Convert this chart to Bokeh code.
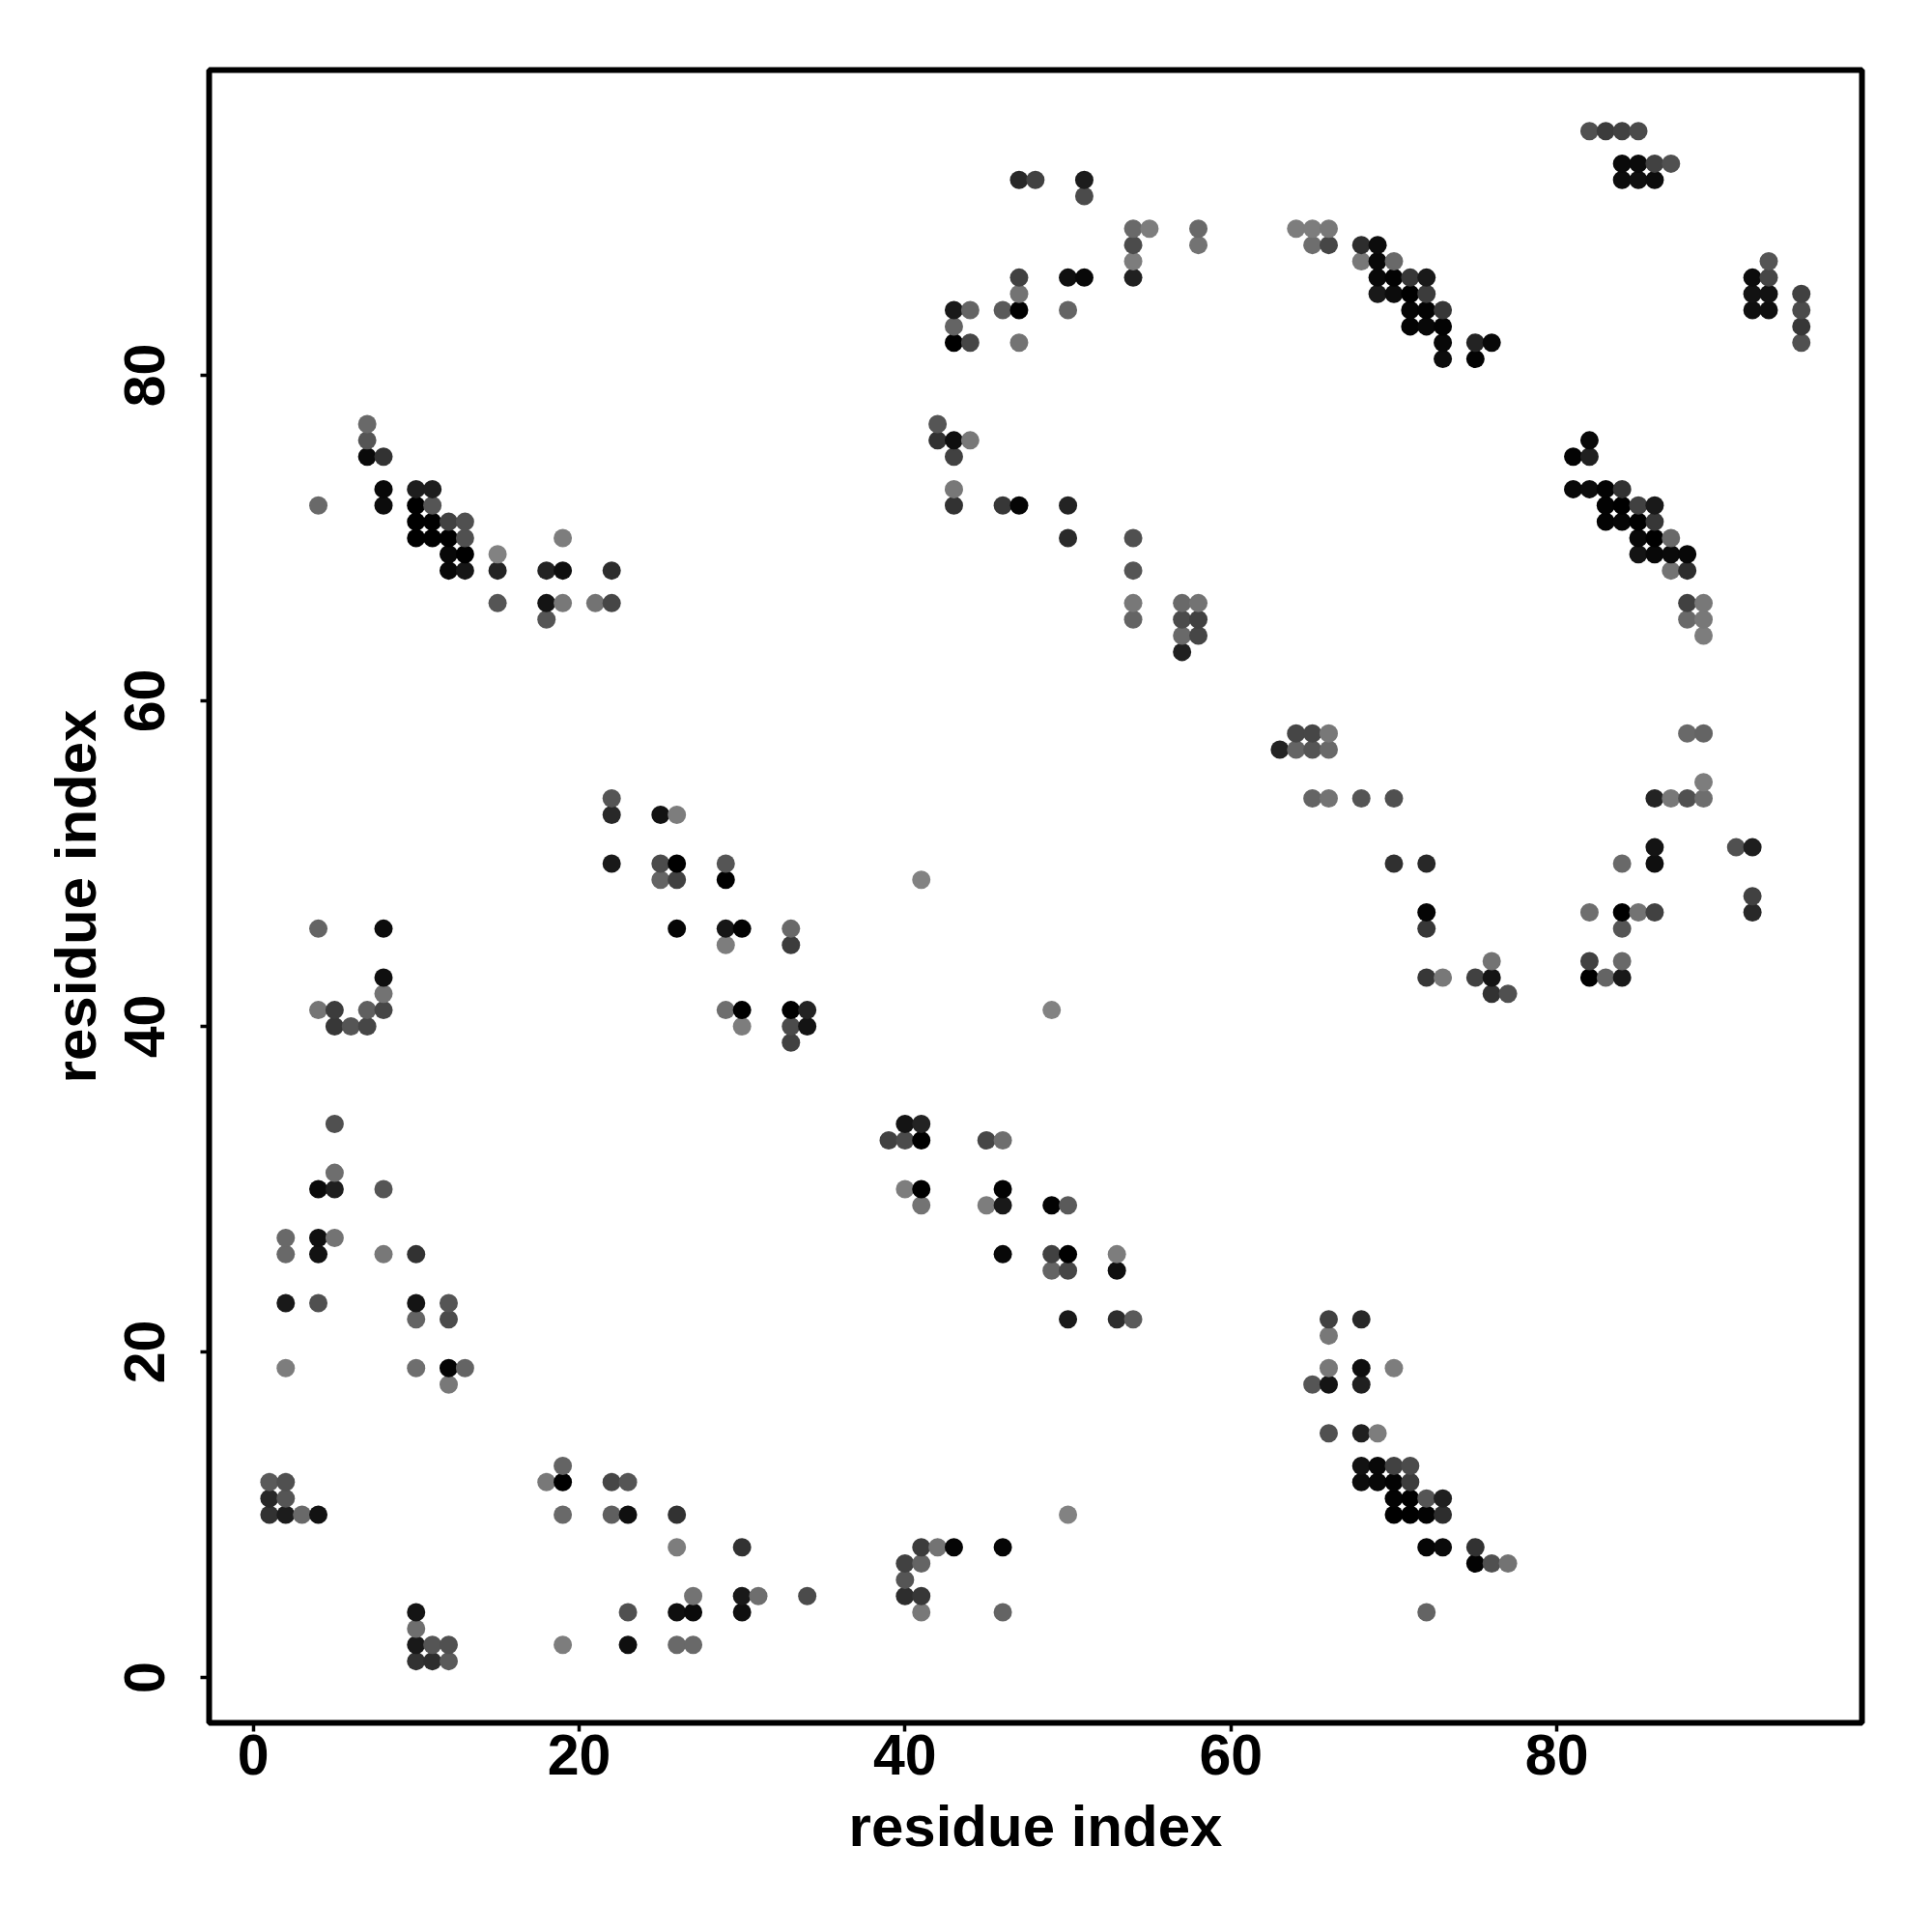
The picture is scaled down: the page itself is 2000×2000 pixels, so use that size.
from bokeh.plotting import figure
from bokeh.embed import file_html
from bokeh.resources import INLINE
from bokeh.models import FixedTicker, ColumnDataSource, Range1d

# (residue i, residue j, grey level 0-255)
block_a = [(4,41,117),(5,41,60),(5,40,55),(6,40,85),(7,40,70),(7,41,95),(8,41,70),(8,42,115),(8,43,15),
 (5,34,80),(5,31,110),(5,30,30),(4,30,10),(8,30,85),(2,27,105),(2,26,105),(4,27,15),(4,26,18),(5,27,115),
 (8,26,120),(10,26,50),(2,23,25),(4,23,80),(10,23,20),(10,22,100),(12,23,85),(12,22,75),(2,19,125),
 (10,19,110),(12,19,5),(13,19,100),(12,18,120)]
block_b = [(29,41,110),(30,41,0),(30,40,125),(33,41,0),(34,41,35),(33,40,75),(34,40,20),(33,39,65),
 (40,34,20),(41,34,35),(39,33,65),(40,33,75),(41,33,0),(45,33,70),(46,33,110),(40,30,125),(41,30,0),(41,29,115),
 (46,30,3),(45,29,125),(46,29,25),(49,29,3),(50,29,90),(46,26,8),(49,26,65),(50,26,0),(49,25,100),(50,25,70),
 (53,26,125),(53,25,15),(50,22,25),(53,22,45),(54,22,90),(49,41,130)]
block_c = [(72,43,55),(73,43,120),(75,43,65),(76,43,20),(76,42,50),(77,42,80),(76,44,115),(82,43,0),(83,43,100),
 (84,43,25),(82,44,65),(84,44,105),(66,22,65),(68,22,40),(66,21,120),(66,19,120),(68,19,15),(70,19,125),
 (65,18,85),(66,18,20),(68,18,32),(66,15,80),(68,15,32),(69,15,125)]
block_d = [(4,72,105),(8,72,12),(10,72,0),(11,72,85),(10,71,0),(11,71,0),(12,71,65),(13,71,80),(10,70,0),(11,70,0),
 (12,70,0),(13,70,80),(12,69,8),(13,69,0),(15,69,130),(12,68,8),(13,68,22),(15,68,35),(18,68,35),(19,68,15),
 (22,68,45),(19,70,125),(15,66,85),(18,66,20),(19,66,120),(21,66,115),(22,66,70),(18,65,85),
 (7,77,105),(7,76,85),(7,75,10),(8,75,50),(8,73,8),(10,73,30),(11,73,30)]
block_e = [(22,54,85),(22,53,40),(25,53,18),(26,53,125),(22,50,25),(25,50,75),(26,50,0),(25,49,100),(26,49,65),
 (4,46,100),(8,46,12),(26,46,5),(29,50,85),(29,49,0),(29,46,22),(30,46,3),(29,45,125),(33,46,105),(33,45,60),(41,49,130)]
block_f = [(43,72,50),(46,72,55),(47,72,5),(50,72,35),(50,70,42),(54,70,80),(54,68,85),(54,66,120),(54,65,100),
 (57,66,105),(58,66,115),(57,65,75),(58,65,65),(57,64,105),(58,64,70),(57,63,32),
 (63,57,35),(64,58,70),(65,58,70),(66,58,120),(64,57,100),(65,57,85),(66,57,105),
 (65,54,100),(66,54,115),(68,54,85),(70,54,80),(70,50,48),(72,50,40),(72,47,5),(72,46,55),(82,47,110)]
block_g = [(47,92,40),(48,92,65),(51,92,28),(51,91,75),(54,89,105),(55,89,125),(54,88,75),(54,87,125),(54,86,32),
 (58,89,105),(58,88,115),(64,89,125),(65,89,125),(66,89,120),(65,88,110),(66,88,70),(47,86,65),(47,85,115),
 (47,84,0),(46,84,90),(50,86,15),(51,86,8),(50,84,100),(43,84,25),(44,84,100),(43,83,100),(43,82,0),(44,82,70),
 (47,82,115),(42,77,85),(42,76,50),(43,76,15),(44,76,120),(43,75,65),(43,73,120)]
block_h = [(68,88,45),(69,88,12),(68,87,120),(69,87,8),(70,87,105),(69,86,8),(70,86,3),(71,86,55),(72,86,25),
 (69,85,25),(70,85,12),(71,85,0),(72,85,60),(71,84,5),(72,84,3),(73,84,55),(71,83,3),(72,83,8),(73,83,3),
 (73,82,8),(73,81,12),(75,82,35),(76,82,8),(75,81,3),(82,95,80),(83,95,60),(84,95,65),(85,95,75),
 (84,93,10),(85,93,10),(86,93,65),(87,93,80),(84,92,12),(85,92,15),(86,92,12),
 (92,86,12),(93,87,85),(93,86,70),(92,85,18),(93,85,18),(92,84,15),(93,84,15),
 (95,85,65),(95,84,75),(95,83,55),(95,82,80)]
block_i = [(82,76,8),(81,75,3),(82,75,32),(81,73,8),(82,73,12),(83,73,3),(84,73,50),
 (83,72,3),(84,72,0),(85,72,65),(86,72,25),(83,71,3),(84,71,5),(85,71,0),(86,71,55),
 (85,70,8),(86,70,0),(87,70,105),(85,69,20),(86,69,8),(87,69,10),(88,69,8),(87,68,115),(88,68,45),
 (88,66,65),(89,66,120),(88,65,105),(89,65,120),(89,64,125)]
block_j = [(88,58,105),(89,58,100),(89,55,125),(86,54,35),(87,54,120),(88,54,80),(89,54,110),(86,51,20),(86,50,15),
 (84,50,105),(91,51,80),(92,51,30),(92,48,65),(92,47,40),(84,47,0),(85,47,115),(86,47,65),(84,46,85)]
block_k = [(1,12,90),(2,12,80),(1,11,40),(2,11,85),(1,10,50),(2,10,28),(3,10,105),(4,10,18),(19,13,100),(18,12,120),
 (19,12,0),(22,12,70),(23,12,85),(19,10,105),(22,10,95),(23,10,15),(26,10,50),(26,8,125),(27,5,115),(23,4,80),
 (26,4,15),(27,4,10),(10,4,20),(10,3,110),(10,2,25),(11,2,85),(12,2,80),(10,1,50),(11,1,45),(12,1,90),
 (19,2,125),(23,2,15),(26,2,105),(27,2,105)]
block_l = [(30,8,50),(30,5,25),(30,4,15),(31,5,110),(34,5,75),(40,5,45),(41,5,55),(40,6,85),(40,7,65),(41,7,100),
 (41,8,60),(42,8,115),(43,8,5),(46,8,5),(41,4,120),(46,4,100),(50,10,130),
 (68,13,18),(69,13,8),(70,13,65),(71,13,75),(68,12,12),(69,12,8),(70,12,3),(71,12,60),
 (70,11,3),(71,11,0),(72,11,85),(73,11,32),(70,10,0),(71,10,0),(72,10,3),(73,10,45),
 (72,8,5),(73,8,10),(75,8,50),(75,7,3),(76,7,80),(77,7,115),(72,4,100)]
tick_values = [0, 20, 40, 60, 80]
axis_title = "residue index"

blocks = [block_a, block_b, block_c, block_d, block_e, block_f, block_g, block_h, block_i, block_j, block_k, block_l]
pts = sorted((t for b in blocks for t in b), key=lambda t: (t[0], t[1]))
src = ColumnDataSource(dict(x=[t[0] for t in pts], y=[t[1] for t in pts],
                            c=["#%02x%02x%02x" % (t[2], t[2], t[2]) for t in pts]))

p = figure(frame_width=1711, frame_height=1711, output_backend="svg", toolbar_location=None,
           x_range=Range1d(-2.70, 98.72), y_range=Range1d(-2.79, 98.75),
           min_border_left=216, min_border_top=72, min_border_right=50, min_border_bottom=130,
           background_fill_color="white")
p.scatter("x", "y", source=src, size=19, marker="circle", fill_color="c", line_color=None)

p.grid.visible = False
p.outline_line_color = "black"
p.outline_line_width = 6
p.outline_line_alpha = 1

for ax, orient, tick_gap, title_gap in ((p.xaxis[0], "horizontal", 3, 17), (p.yaxis[0], "vertical", 37, 15)):
    ax.ticker = FixedTicker(ticks=tick_values)
    ax.minor_tick_line_color = None
    ax.major_tick_in = 0
    ax.major_tick_out = 9
    ax.major_tick_line_width = 3.5
    ax.major_tick_line_color = "black"
    ax.axis_line_color = None
    ax.major_label_text_font = "Liberation Sans"
    ax.major_label_text_font_style = "bold"
    ax.major_label_text_font_size = "59px"
    ax.major_label_text_color = "black"
    ax.major_label_orientation = orient
    ax.major_label_standoff = tick_gap
    ax.axis_label = axis_title
    ax.axis_label_text_font = "Liberation Sans"
    ax.axis_label_text_font_style = "bold"
    ax.axis_label_text_font_size = "60px"
    ax.axis_label_text_color = "black"
    ax.axis_label_standoff = title_gap

open("out.html", "w").write(file_html(p, INLINE))
